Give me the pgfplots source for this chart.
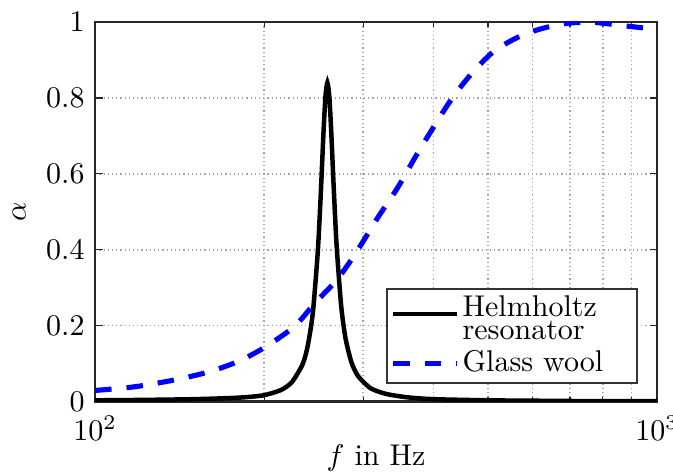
\documentclass[border=0pt]{standalone}
\usepackage{pgfplots}
\pgfplotsset{compat=1.18}
\usetikzlibrary{calc}

% two-line legend text, centred on the legend line
\newcommand{\twoline}[2]{\raisebox{-3.7pt}{\vbox{\baselineskip=7.8pt\hbox{#1}\hbox{#2}}}}

\begin{document}
\begin{tikzpicture}
\begin{axis}[
  scale only axis,
  width=187.3pt, height=126.5pt,
  xmode=log, log basis x=10,
  xmin=100, xmax=1000,
  ymin=0, ymax=1,
  xtick={100,1000},
  minor xtick={200,300,400,500,600,700,800,900},
  ytick={0,0.2,0.4,0.6,0.8,1},
  tick align=inside,
  xtick pos=both, ytick pos=both,
  major tick length=2.5pt, minor tick length=1.6pt,
  tick style={black!85, line width=0.5pt},
  grid=both,
  major grid style={densely dotted, gray!70, line width=0.6pt},
  minor grid style={densely dotted, gray!70, line width=0.6pt},
  axis line style={black!85, line width=0.8pt},
  xticklabel style={yshift=-1.4pt},
  xlabel={$f$ in Hz},
  xlabel style={yshift=5.7pt},
  ylabel={$\alpha$},
  legend style={at={(0.966,0.046)}, anchor=south east,
    draw=black!80, line width=0.8pt, fill=white,
    font=\normalsize, inner xsep=1.2pt, inner ysep=1.1pt, row sep=4pt,
    nodes={inner sep=1pt}},
  legend cell align=left,
  legend image code/.code={\draw[#1] (0cm,0cm) -- (0.75cm,0cm);},
]
\coordinate (sw) at (rel axis cs:0,0);
\coordinate (ne) at (rel axis cs:1,1);
% Helmholtz resonator: narrow resonance near 259 Hz
\addplot[black, line width=1.5pt, smooth, tension=0.4] coordinates {
  (100,0.003) (120,0.004) (150,0.006) (180,0.010) (199,0.016)
  (214,0.030) (224,0.051) (234,0.098) (239,0.147) (244,0.233)
  (249,0.394) (252,0.542) (255,0.714) (257,0.805) (259,0.840)
  (261,0.805) (263,0.717) (266,0.553) (269,0.410) (274,0.253)
  (279,0.166) (286,0.102) (294,0.066) (309,0.035) (329,0.020)
  (359,0.011) (400,0.006) (500,0.003) (600,0.002) (750,0.001)
  (1000,0.001)
};
\addlegendentry{\twoline{Helmholtz}{resonator}}
% Glass wool: broadband porous absorber
\addplot[blue, line width=1.7pt, dash pattern=on 5.5pt off 5pt, smooth, tension=0.5] coordinates {
  (100,0.029) (118,0.039) (141,0.059) (161,0.080) (180,0.106)
  (200,0.142) (226,0.197) (246,0.259) (269,0.320) (291,0.391)
  (318,0.483) (345,0.562) (370,0.640) (396,0.712) (430,0.795)
  (466,0.861) (513,0.923) (580,0.967) (668,0.993) (760,0.999)
  (871,0.990) (1000,0.980)
};
\addlegendentry{Glass wool\rule[-2pt]{9pt}{0pt}}
\end{axis}
% page frame: the right end of the last tick label runs past the edge
\pgfresetboundingbox
\path[use as bounding box] ($(sw)+(-31.7pt,-23.5pt)$) rectangle ($(ne)+(5.3pt,7.3pt)$);
\end{tikzpicture}
\end{document}
